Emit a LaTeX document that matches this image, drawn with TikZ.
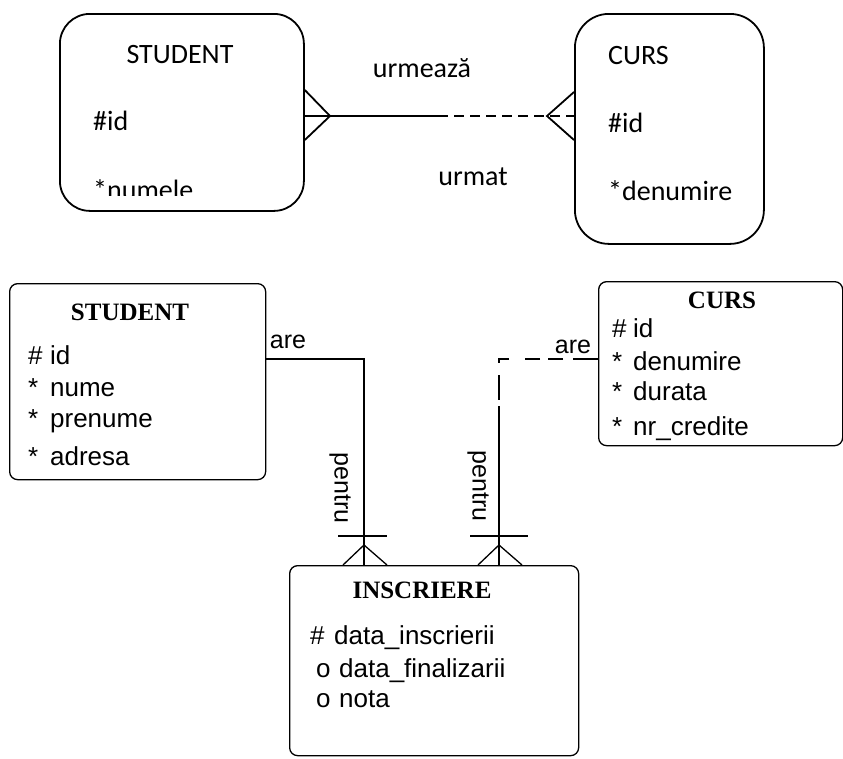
\documentclass[tikz,border=0pt]{standalone}
\usepackage{fontspec}
\newfontfamily\calfont{Carlito}
\newfontfamily\attrfont{Liberation Sans}
\newfontfamily\headfont{Liberation Serif}
% attribute marker (#, *, o) followed by a fixed gap
\newcommand{\amark}[2][21pt]{\makebox[#1][l]{#2}}
\begin{document}
\begin{tikzpicture}[x=1pt,y=-1pt,
  bigbox/.style={draw,line width=1.8pt,rounded corners=30pt,inner sep=0pt,anchor=north west},
  smallbox/.style={draw,line width=1.3pt,rounded corners=8pt,inner sep=0pt,anchor=north west},
  caltxt/.style={inner sep=0pt,font=\calfont\fontsize{28}{30}\selectfont},
  attr/.style={inner sep=0pt,anchor=base west,font=\attrfont\fontsize{26}{28}\selectfont},
  head/.style={inner sep=0pt,anchor=base,font=\headfont\bfseries\fontsize{25}{27}\selectfont},
  rolelbl/.style={inner sep=0pt,font=\attrfont\fontsize{25}{27}\selectfont},
  thick rel/.style={line width=1.8pt},
  thin rel/.style={line width=1.3pt},
  dashrel/.style={line width=1.3pt,dash pattern=on 25pt off 10pt on 15pt off 8pt on 15pt off 16pt on 14pt off 12pt on 25pt off 20pt}]
\useasboundingbox (0,0) rectangle (843,758);

% ---------- upper model ----------
\node[bigbox,minimum width=244pt,minimum height=197pt] (stuA) at (59,13) {};
\node[bigbox,rounded corners=34pt,minimum width=189pt,minimum height=230pt] (cursA) at (574,13) {};

\node[caltxt,anchor=base] (stuAname) at (180,63) {STUDENT};
\node[caltxt,anchor=base west] (stuAid) at (93,130) {\#id};
\begin{scope}
  \clip (60,150) rectangle (302,195);
  \node[caltxt,anchor=base west] (stuAnum) at (93,199) {*numele};
\end{scope}

\node[caltxt,anchor=base west] (cursAname) at (608,64) {CURS};
\node[caltxt,anchor=base west] (cursAid) at (608,132) {\#id};
\node[caltxt,anchor=base west] (cursAden) at (608,200) {*denumire};

\node[caltxt,anchor=base] (lblA1) at (422,77) {urmează};
\node[caltxt,anchor=base] (lblA2) at (473,185) {urmat};

\coordinate (midA) at (438,116);
\coordinate (footA1) at (330,116);
\coordinate (footA2) at (547,116);
\draw[thick rel] (stuA.east |- midA) -- (midA);
\draw[thick rel,dash pattern=on 10pt off 6pt] (midA) -- (cursA.west |- midA);
\draw[thick rel] (stuA.east |- 0,90) -- (footA1) -- (stuA.east |- 0,140);
\draw[thick rel] (cursA.west |- 0,92) -- (footA2) -- (cursA.west |- 0,140);

% ---------- lower model ----------
\node[smallbox,minimum width=256pt,minimum height=196pt] (stuB) at (9,283) {};
\node[smallbox,minimum width=244pt,minimum height=164pt] (cursB) at (598,281) {};
\node[smallbox,minimum width=289pt,minimum height=190pt] (insB) at (289,565) {};

\node[head] (stuBname) at (130,320) {STUDENT};
\node[attr] (stuB1) at (28,364) {\amark[22pt]{\#}id};
\node[attr] (stuB2) at (28,396) {\amark[22pt]{*}nume};
\node[attr] (stuB3) at (28,427) {\amark[22pt]{*}prenume};
\node[attr] (stuB4) at (28,465) {\amark[22pt]{*}adresa};

\node[head] (cursBname) at (722,308) {CURS};
\node[attr] (cursB1) at (612,337) {\amark{\#}id};
\node[attr] (cursB2) at (612,370) {\amark{*}denumire};
\node[attr] (cursB3) at (612,400) {\amark{*}durata};
\node[attr] (cursB4) at (612,435) {\amark{*}nr\_credite};

\node[head] (insBname) at (422,598) {INSCRIERE};
\node[attr] (insB1) at (310,644) {\amark[24pt]{\#}data\_inscrierii};
\node[attr] (insB2) at (316,677) {\amark[23pt]{o}data\_finalizarii};
\node[attr] (insB3) at (316,707) {\amark[23pt]{o}nota};

% STUDENT -- INSCRIERE
\coordinate (bendL) at (364,359);
\coordinate (tickL) at (364,536);
\coordinate (tipL) at (364,545);
\draw[thin rel] (stuB.east |- bendL) -- (bendL) -- (bendL |- insB.north);
\draw[thin rel] ([xshift=-26pt]tickL) -- ([xshift=23pt]tickL);
\draw[thin rel] ([xshift=-21pt]tipL |- insB.north) -- (tipL) -- ([xshift=23pt]tipL |- insB.north);
\node[rolelbl,anchor=base] (areL) at (288,348) {are};
\node[rolelbl,rotate=-90] (pentruL) at (340,488) {pentru};

% CURS -- INSCRIERE
\coordinate (bendR) at (499,359);
\coordinate (splitR) at (499,406);
\coordinate (tickR) at (499,536);
\coordinate (tipR) at (499,545);
\draw[dashrel] (cursB.west |- bendR) -- (bendR) -- (splitR);
\draw[thin rel] (splitR) -- (splitR |- insB.north);
\draw[thin rel] ([xshift=-29pt]tickR) -- ([xshift=29pt]tickR);
\draw[thin rel] ([xshift=-21pt]tipR |- insB.north) -- (tipR) -- ([xshift=23pt]tipR |- insB.north);
\node[rolelbl,anchor=base] (areR) at (573,353) {are};
\node[rolelbl,rotate=-90] (pentruR) at (478,486) {pentru};
\end{tikzpicture}
\end{document}
